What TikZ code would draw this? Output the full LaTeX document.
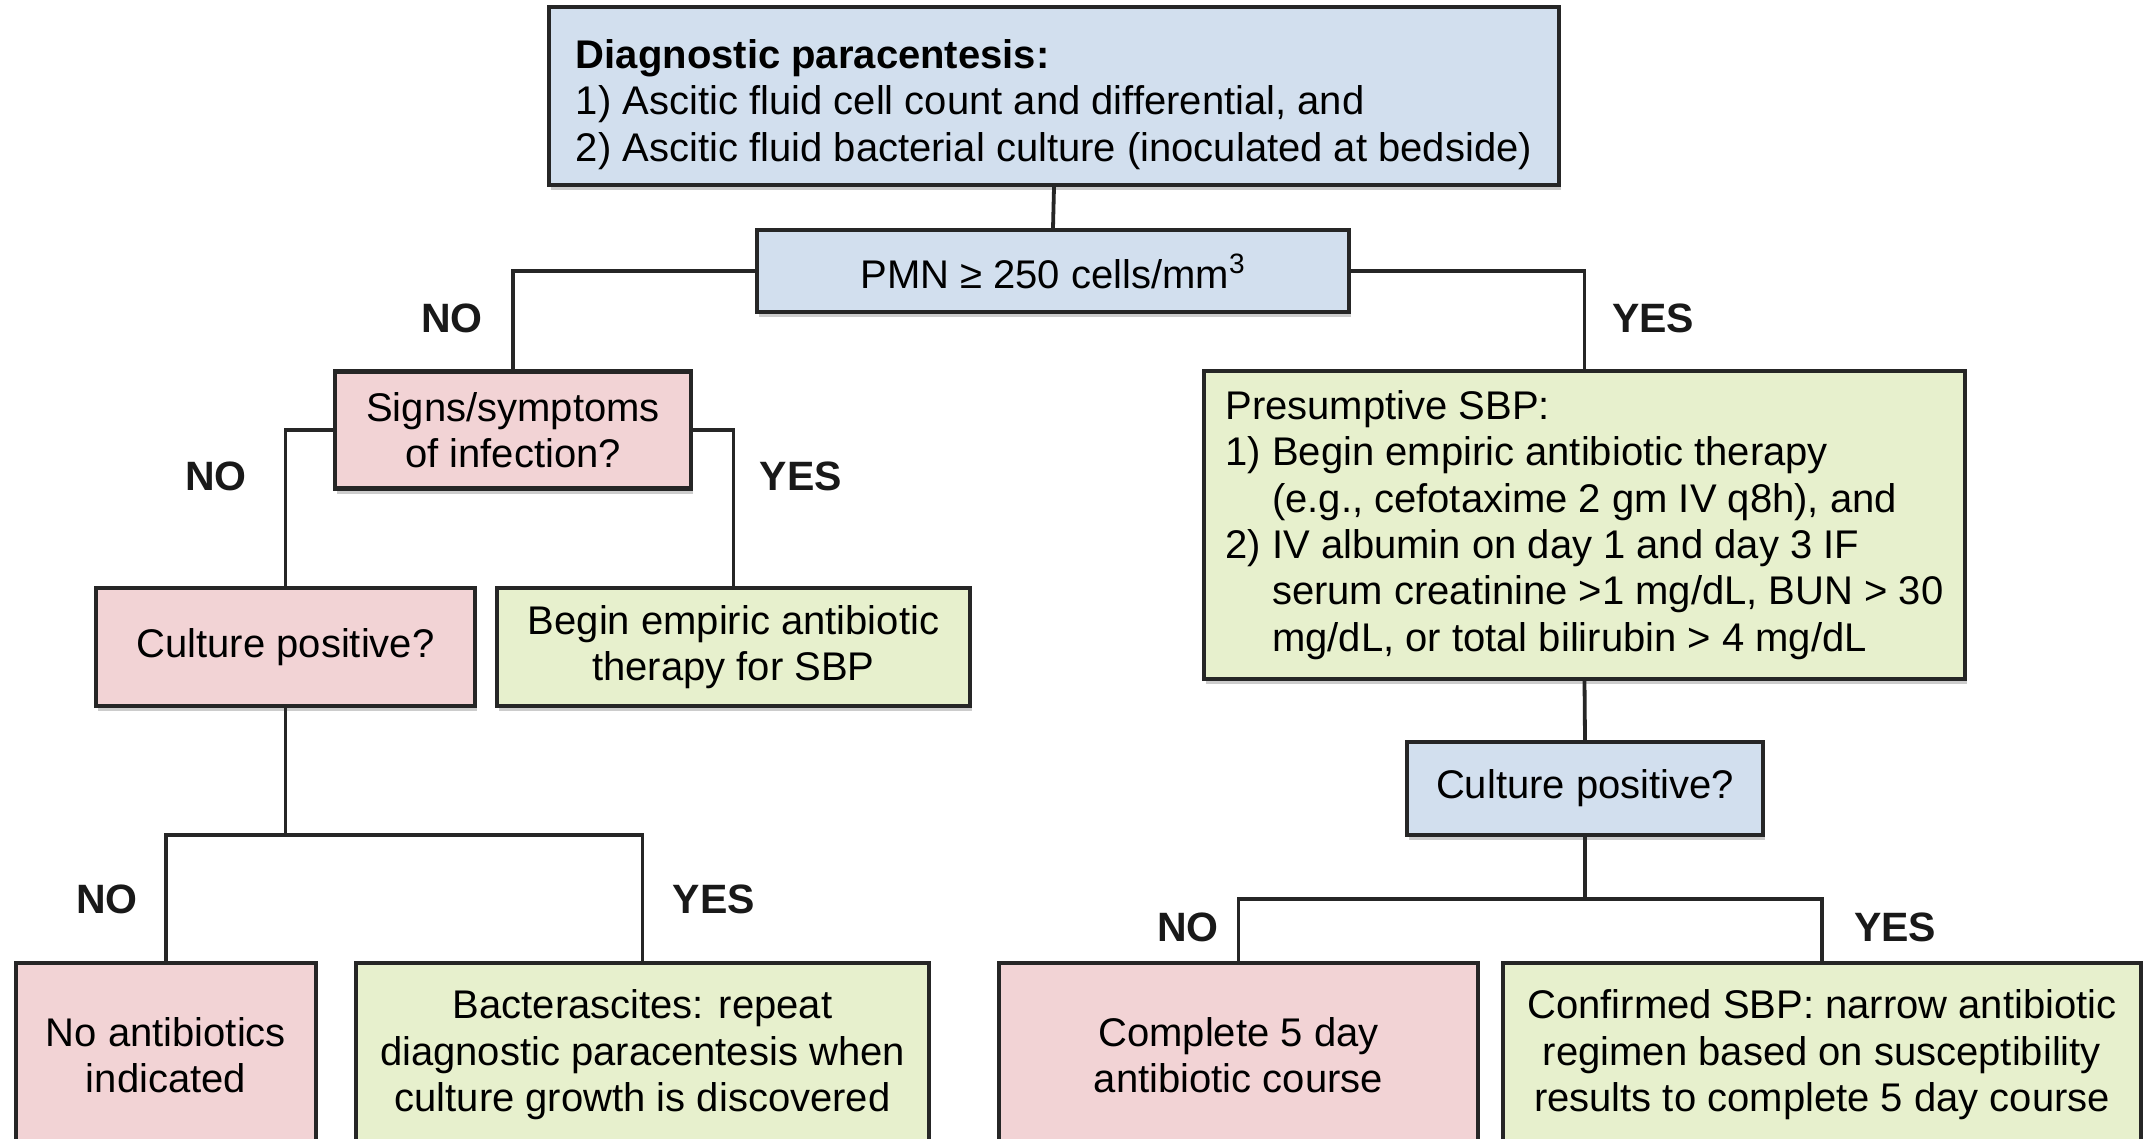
\documentclass[tikz,border=0pt]{standalone}
\usepackage{fontspec}
\setmainfont{Liberation Sans}
\usetikzlibrary{shadows}
\definecolor{bluefill}{HTML}{D2DFEE}
\definecolor{pinkfill}{HTML}{F2D3D5}
\definecolor{greenfill}{HTML}{E7F0CD}
\definecolor{linecol}{HTML}{262626}
\tikzset{
  box/.style={draw=linecol, line width=2.1pt, align=center, inner sep=0pt,
    font=\fontsize{20pt}{23.2pt}\selectfont,
    drop shadow={shadow xshift=0.8pt, shadow yshift=-2.5pt, opacity=0.2, fill=black}},
  bluebox/.style={box, fill=bluefill},
  pinkbox/.style={box, fill=pinkfill},
  greenbox/.style={box, fill=greenfill},
  lbl/.style={font=\fontsize{20.5pt}{24pt}\selectfont\bfseries, text=black!90},
  conn/.style={draw=linecol, line width=1.9pt},
}
\begin{document}
\begin{tikzpicture}[x=0.5pt,y=-0.5pt]
\useasboundingbox (0,0) rectangle (2146,1139);
\clip (0,0) rectangle (2146,1139);
\fill[white] (0,0) rectangle (2146,1139);

% boxes
\node[bluebox, minimum width=505pt, minimum height=89pt, align=left] (diag) at (1054,96)
  {\rule{0pt}{23pt}\textbf{Diagnostic paracentesis:}\\1) Ascitic fluid cell count and differential, and\\2) Ascitic fluid bacterial culture (inoculated at bedside)};
\node[bluebox, minimum width=296pt, minimum height=41pt] (pmn) at (1053,271)
  {PMN \char"2265{} 250 cells/mm\textsuperscript{3}};
\node[pinkbox, minimum width=178pt, minimum height=58.5pt] (signs) at (513,430)
  {Signs/symptoms\\of infection?};
\node[pinkbox, minimum width=189.5pt, minimum height=59pt] (cultL) at (285.5,647)
  {Culture positive?};
\node[greenbox, minimum width=236.5pt, minimum height=59pt] (begin) at (733.5,647)
  {Begin empiric antibiotic\\therapy for SBP};
\node[pinkbox, minimum width=150pt, minimum height=92pt] (noab) at (166,1055)
  {No antibiotics\\indicated};
\node[greenbox, minimum width=286.5pt, minimum height=92pt] (bact) at (642.5,1055)
  {Bacterascites: repeat\\diagnostic paracentesis when\\culture growth is discovered};
\node[greenbox, minimum width=380.5pt, minimum height=154pt, align=left] (pres) at (1584.5,525)
  {Presumptive SBP:\\
   1) Begin empiric antibiotic therapy\\
   \hphantom{1) }(e.g., cefotaxime 2 gm IV q8h), and\\
   2) IV albumin on day 1 and day 3 IF\\
   \hphantom{2) }serum creatinine >1 mg/dL, BUN > 30\\
   \hphantom{2) }mg/dL, or total bilirubin > 4 mg/dL};
\node[bluebox, minimum width=178pt, minimum height=46.5pt] (cultR) at (1585,788.5)
  {Culture positive?};
\node[pinkbox, minimum width=239.5pt, minimum height=92pt] (compl) at (1238.5,1055)
  {Complete 5 day\\antibiotic course};
\node[greenbox, minimum width=319pt, minimum height=92pt] (conf) at (1822,1055)
  {Confirmed SBP: narrow antibiotic\\regimen based on susceptibility\\results to complete 5 day course};

% junction points
\coordinate (jL) at (285.5,835);
\coordinate (jR) at (1585,899);

% connectors
\draw[conn] (diag.south) -- (pmn.north);
\draw[conn] (pmn.west) -| (signs.north);
\draw[conn] (pmn.east) -| (pres.north);
\draw[conn] (signs.west) -| (cultL.north);
\draw[conn] (signs.east) -| (begin.north);
\draw[conn] (cultL.south) -- (jL);
\draw[conn] (noab.north) |- (jL) -| (bact.north);
\draw[conn] (pres.south) -- (cultR.north);
\draw[conn] (cultR.south) -- (jR);
\draw[conn] (compl.north) |- (jR) -| (conf.north);

% labels
\node[lbl] (no1) at (452,318) {NO};
\node[lbl] (yes1) at (1653,318) {YES};
\node[lbl] (no2) at (216,476) {NO};
\node[lbl] (yes2) at (801,476) {YES};
\node[lbl] (no3) at (107,899) {NO};
\node[lbl] (yes3) at (714,899) {YES};
\node[lbl] (no4) at (1188,927) {NO};
\node[lbl] (yes4) at (1895,927) {YES};
\end{tikzpicture}
\end{document}
